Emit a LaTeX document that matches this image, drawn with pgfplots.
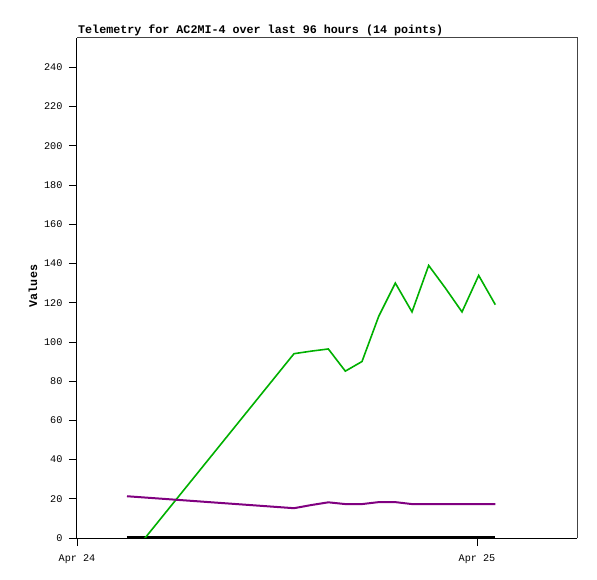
\documentclass[border=0pt]{standalone}
\usepackage{fontspec}
\setmainfont{Liberation Mono}
\setmonofont{Liberation Mono}
\usepackage{pgfplots}
\pgfplotsset{compat=1.18}
\definecolor{tgreen}{RGB}{0,176,0}
\definecolor{tpurple}{RGB}{128,0,128}
\definecolor{frame}{RGB}{68,68,68}
\begin{document}
\begin{tikzpicture}
\begin{axis}[
  name=ax,
  scale only axis,
  width=500pt, height=500pt,
  xmin=0, xmax=30, ymin=0, ymax=255,
  axis line style={draw=none},
  xtick={0,24}, xticklabels={Apr 24, Apr 25},
  ytick={0,20,...,240},
  tick align=outside,
  major tick length=8pt,
  tick style={black, line width=0.8pt},
  xtick pos=bottom, ytick pos=left,
  /pgf/number format/assume math mode=true,
  ticklabel style={font=\fontsize{10.2}{12}\selectfont},
  xticklabel style={yshift=-5pt},
  yticklabel style={xshift=-3pt},
  ylabel={\textbf{Values}},
  ylabel style={font=\fontsize{11.7}{13}\selectfont, at={(ticklabel cs:0.5)}, xshift=2pt},
  title={\textbf{Telemetry for AC2MI-4 over last 96 hours (14 points)}},
  title style={font=\fontsize{11.7}{13}\selectfont, anchor=south west, at={(rel axis cs:0,1)}, yshift=-5.5pt, inner sep=1pt},
  clip=true,
]
\addplot[black, line width=3.4pt] coordinates {(3,0) (25.1,0)};
\addplot[tgreen, line width=1.6pt] coordinates {
(3,-11.4) (13.02,94.0) (14.05,95.3) (15.08,96.4) (16.1,85.1) (17.1,90.0)
(18.1,113.0) (19.1,130.0) (20.1,115.3) (21.1,139.0) (22.1,127.5) (23.1,115.3) (24.1,133.9) (25.1,119.0)};
\addplot[tpurple, line width=2pt] coordinates {
(3,21.3) (13.02,15.2) (14.05,16.8) (15.08,18.2) (16.1,17.3) (17.1,17.3)
(18.1,18.3) (19.1,18.3) (20.1,17.3) (21.1,17.3) (22.1,17.3) (23.1,17.3) (24.1,17.3) (25.1,17.3)};
\end{axis}
\draw[frame, line width=1pt] (ax.south east) -- (ax.north east) -- (ax.north west);
\draw[black, line width=1pt] (ax.north west) -- (ax.south west) -- (ax.south east);
\pgfresetboundingbox
\path[use as bounding box] (ax.south west) ++(-77pt,-41pt) rectangle ([xshift=20pt,yshift=38pt]ax.north east);
\end{tikzpicture}
\end{document}
